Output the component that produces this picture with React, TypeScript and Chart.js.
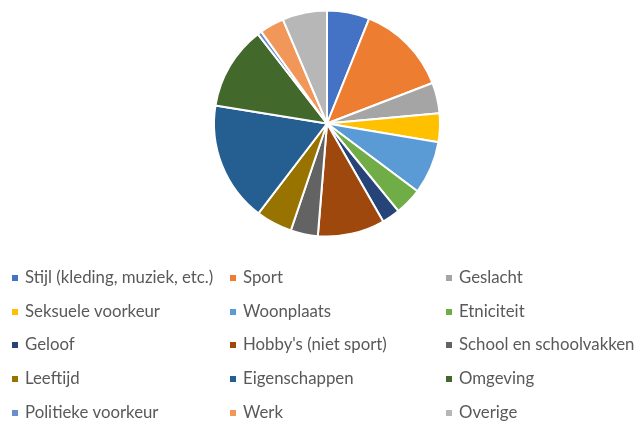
import React, { useEffect, useRef } from "react";
import { Chart, registerables } from "chart.js";

Chart.register(...registerables);

const categories = [
  "Stijl (kleding, muziek, etc.)",
  "Sport",
  "Geslacht",
  "Seksuele voorkeur",
  "Woonplaats",
  "Etniciteit",
  "Geloof",
  "Hobby's (niet sport)",
  "School en schoolvakken",
  "Leeftijd",
  "Eigenschappen",
  "Omgeving",
  "Politieke voorkeur",
  "Werk",
  "Overige",
];

const values = [6.1, 13.1, 4.4, 4.1, 7.6, 3.9, 2.6, 9.6, 3.9, 5.2, 17.2, 12.0, 0.6, 3.5, 6.4];

const colors = [
  "#4472C4", "#ED7D31", "#A5A5A5", "#FFC000", "#5B9BD5", "#70AD47", "#264478",
  "#9E480E", "#636363", "#997300", "#255E91", "#43682B", "#698ED0", "#F1975A", "#B7B7B7",
];

const legendPlugin = {
  id: "gridLegend",
  afterDraw(chart: any) {
    const ctx = chart.ctx;
    const labels: string[] = chart.data.labels;
    const bg: string[] = chart.data.datasets[0].backgroundColor;
    const colMarkerX = [12, 230, 446];
    const rowY = [278, 312, 345, 379, 413];
    ctx.save();
    ctx.font = "16.8px Lato, 'Liberation Sans', sans-serif";
    ctx.textBaseline = "middle";
    labels.forEach((lab, i) => {
      const c = i % 3;
      const r = Math.floor(i / 3);
      const x = colMarkerX[c];
      const y = rowY[r];
      ctx.fillStyle = bg[i];
      ctx.fillRect(x, y - 3, 6, 6);
      ctx.fillStyle = "#595959";
      ctx.fillText(lab, x + 13, y);
    });
    ctx.restore();
  },
};

export default function App() {
  const ref = useRef<HTMLCanvasElement | null>(null);
  useEffect(() => {
    document.body.style.margin = "0";
    const chart = new Chart(ref.current!, {
      type: "pie",
      data: {
        labels: categories,
        datasets: [
          {
            data: values,
            backgroundColor: colors,
            borderColor: "#ffffff",
            borderWidth: 2,
          },
        ],
      },
      options: {
        animation: false,
        responsive: false,
        layout: { padding: { top: 9, bottom: 184, left: 213, right: 196 } },
        plugins: {
          legend: { display: false },
          tooltip: { enabled: false },
        },
      },
      plugins: [legendPlugin],
    });
    return () => chart.destroy();
  }, []);
  return (
    <div style={{ width: 637, height: 422, background: "#fff" }}>
      <canvas ref={ref} width={637} height={422} />
    </div>
  );
}
